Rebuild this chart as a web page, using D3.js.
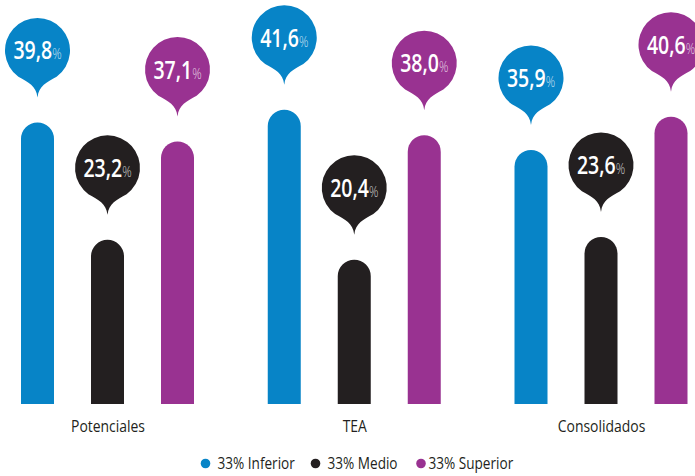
<!DOCTYPE html>
<html><head><meta charset="utf-8">
<script src="https://cdn.jsdelivr.net/npm/d3@7"></script>
<style>
html,body{margin:0;padding:0;background:#fff;}
svg{display:block;}
text{font-family:"Open Sans","Noto Sans",sans-serif;}
</style></head>
<body>
<svg id="chart" width="695" height="476"></svg>
<script>
const categories = ["Potenciales", "TEA", "Consolidados"];
const seriesNames = ["33% Inferior", "33% Medio", "33% Superior"];
const seriesColors = ["#0784c7", "#231f20", "#993291"];
const inferior = [39.8, 41.6, 35.9];
const medio = [23.2, 20.4, 23.6];
const superior = [37.1, 38.0, 40.6];
const seriesValues = [inferior, medio, superior];

const svg = d3.select("#chart");
const W = 695, H = 476;
const condense = 0.78;

const x0 = d3.scalePoint().domain(categories).range([107.5, 601]);
const x1 = d3.scalePoint().domain(seriesNames).range([-70, 70]);
const y = d3.scaleLinear().domain([0, 57.1]).range([404, 0]);
const color = d3.scaleOrdinal().domain(seriesNames).range(seriesColors);

const barW = 33;
const data = [];
categories.forEach((c, i) => {
  seriesNames.forEach((s, j) => {
    data.push({cat: c, ser: s, v: seriesValues[j][i]});
  });
});

function barPath(cx, top, bottom, w) {
  const r = w / 2;
  return `M${cx - r},${bottom} L${cx - r},${top + r} A${r},${r} 0 0 1 ${cx + r},${top + r} L${cx + r},${bottom} Z`;
}

const R = 32.5, tipOff = 47, gap = 25;
function bubblePath(cx, cy) {
  const th = 36 * Math.PI / 180;
  const lx = cx - R * Math.sin(th), rx = cx + R * Math.sin(th), py = cy + R * Math.cos(th);
  const ty = cy + tipOff;
  return `M${lx},${py} A${R},${R} 0 1 1 ${rx},${py} C${cx + 9},${cy + 32} ${cx + 1.5},${cy + 35} ${cx},${ty} C${cx - 1.5},${cy + 35} ${cx - 9},${cy + 32} ${lx},${py} Z`;
}

const g = svg.append("g");
g.selectAll("path.bar").data(data).join("path")
  .attr("class", "bar")
  .attr("d", d => barPath(x0(d.cat) + x1(d.ser), y(d.v), y(0), barW))
  .attr("fill", d => color(d.ser));

g.selectAll("path.bubble").data(data).join("path")
  .attr("class", "bubble")
  .attr("d", d => bubblePath(x0(d.cat) + x1(d.ser), y(d.v) - gap - tipOff))
  .attr("fill", d => color(d.ser));

const lbl = g.selectAll("text.val").data(data).join("text")
  .attr("class", "val")
  .attr("transform", d => `translate(${x0(d.cat) + x1(d.ser)},${y(d.v) - gap - tipOff + 9}) scale(${condense},1)`)
  .attr("text-anchor", "middle")
  .attr("fill", "#fff");
lbl.append("tspan").attr("font-size", 25).attr("font-weight", 600)
  .text(d => d3.format(".1f")(d.v).replace(".", ","));
lbl.append("tspan").attr("font-size", 15).attr("font-weight", 300).attr("fill-opacity", 0.75).text("%");

// category labels via axis
const axis = svg.append("g").attr("transform", `translate(0,${y(0)})`)
  .call(d3.axisBottom(x0).tickSize(0).tickPadding(0));
axis.select(".domain").remove();
axis.selectAll("text")
  .attr("y", 0).attr("dy", 0)
  .attr("transform", `translate(0,28) scale(0.82,1)`)
  .attr("font-size", 17).attr("font-weight", 500).attr("fill", "#231f20")
  .style("font-family", '"Open Sans","Noto Sans",sans-serif');

// legend
const legDot = [205.5, 315.5, 421];
const legTxt = [217.5, 327.5, 428.5];
const leg = svg.append("g").selectAll("g").data(seriesNames).join("g");
leg.append("circle").attr("cx", (d, i) => legDot[i]).attr("cy", 463.5).attr("r", 4.8).attr("fill", d => color(d));
leg.append("text")
  .attr("transform", (d, i) => `translate(${legTxt[i]},469.3) scale(0.85,1)`)
  .attr("font-size", 16).attr("font-weight", 500)
  .attr("fill", "#231f20").text(d => d);
</script>
</body></html>
